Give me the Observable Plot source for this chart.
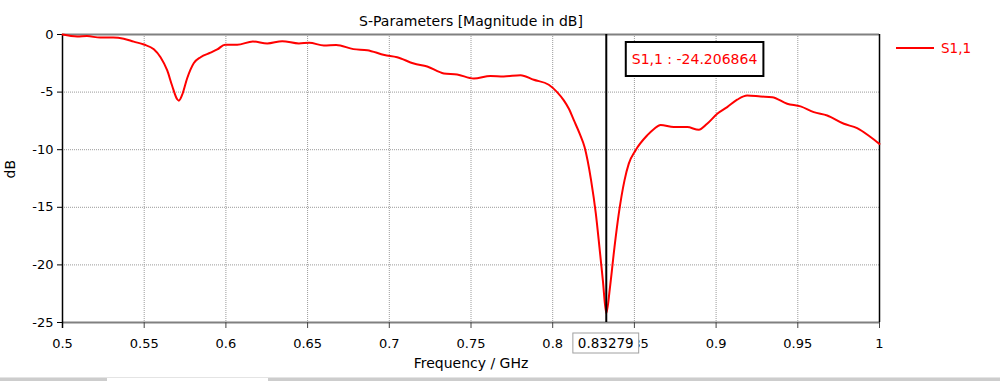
<!DOCTYPE html>
<html>
<head>
<meta charset="utf-8">
<script src="https://cdn.jsdelivr.net/npm/d3@7"></script>
<script src="https://cdn.jsdelivr.net/npm/@observablehq/plot@0.6"></script>
<style>
  html, body { margin: 0; padding: 0; background: #fff; overflow: hidden; }
  #strip { position: relative; height: 3px; border-top: 1px solid #e4e4e4; background: #cdcdcd; }
  #strip .thumb { position: absolute; left: 107px; width: 161px; top: 0; height: 3px; background: #fff; }
</style>
</head>
<body>
<div id="chart"></div>
<div id="strip"><div class="thumb"></div></div>
<script>
const title = "S-Parameters [Magnitude in dB]";
const xLabel = "Frequency / GHz";
const yLabel = "dB";
const seriesName = "S1,1";

const xTicks = [0.5, 0.55, 0.6, 0.65, 0.7, 0.75, 0.8, 0.85, 0.9, 0.95, 1];
const yTicks = [0, -5, -10, -15, -20, -25];

const markerFreq = 0.83279;
const markerValue = -24.206864;

const freq = [
  0.500, 0.509, 0.515, 0.523, 0.531, 0.5375, 0.5436, 0.5498, 0.5559, 0.560,
  0.5641, 0.5671, 0.5702, 0.5712, 0.5732, 0.5763, 0.5804, 0.5845, 0.5906, 0.5947,
  0.5995, 0.6069, 0.6165, 0.6253, 0.6345, 0.6447, 0.6510, 0.660, 0.6675, 0.678,
  0.6865, 0.6970, 0.7048, 0.715, 0.7232, 0.7334, 0.7415, 0.7517, 0.7619, 0.770,
  0.7803, 0.7884, 0.7976, 0.8027, 0.8068, 0.8099, 0.813, 0.8165, 0.8195, 0.8235,
  0.8264, 0.8286, 0.8307, 0.83279, 0.83507, 0.83782, 0.84045, 0.84394, 0.84657, 0.85067,
  0.8578, 0.862, 0.866, 0.8741, 0.8823, 0.8894, 0.8945,
  0.9007, 0.9068, 0.9129, 0.919, 0.9272, 0.9343, 0.9435, 0.9517, 0.9598, 0.968,
  0.9782, 0.9863, 0.9945, 1.0
];
const s11 = [
  0.00, -0.17, -0.14, -0.27, -0.25, -0.36, -0.62, -0.87, -1.28, -1.97,
  -3.12, -4.45, -5.62, -5.74, -5.25, -3.80, -2.48, -1.97, -1.58, -1.30,
  -0.88, -0.90, -0.60, -0.78, -0.58, -0.78, -0.71, -0.96, -0.91, -1.27,
  -1.36, -1.78, -1.97, -2.52, -2.78, -3.38, -3.47, -3.82, -3.60, -3.65,
  -3.53, -3.93, -4.36, -5.00, -5.72, -6.45, -7.46, -8.60, -9.77, -12.66,
  -15.55, -18.45, -21.34, -24.206864, -21.92, -18.45, -15.55, -12.66, -11.21, -10.06,
  -8.76, -8.20, -7.85, -8.04, -8.04, -8.27, -7.75,
  -6.88, -6.30, -5.66, -5.30, -5.38, -5.44, -6.01, -6.24, -6.74, -7.03,
  -7.75, -8.13, -8.90, -9.50
];

const data = freq.map((f, i) => ({f, v: s11[i]}));
const fmt = d => String(d);
const innerX = xTicks.slice(1, -1);
const innerY = yTicks.slice(1, -1);

const plot = Plot.plot({
  width: 1000,
  height: 377,
  marginLeft: 62,
  marginRight: 121,
  marginTop: 34,
  marginBottom: 55,
  style: {fontFamily: "'DejaVu Sans', Verdana, sans-serif", fontSize: "13px", color: "#000", background: "#fff", overflow: "visible"},
  x: {domain: [0.5, 1], label: null},
  y: {domain: [-25, 0], label: null},
  marks: [
    Plot.gridX(innerX, {stroke: "#9a9a9a", strokeOpacity: 1, strokeDasharray: "1,1"}),
    Plot.gridY(innerY, {stroke: "#9a9a9a", strokeOpacity: 1, strokeDasharray: "1,1"}),
    Plot.ruleY([0], {stroke: "#808080", strokeWidth: 2}),
    Plot.ruleY([-25], {stroke: "#808080", strokeWidth: 2}),
    Plot.ruleX([1], {stroke: "#000", strokeWidth: 1.5}),
    Plot.axisX(xTicks, {tickFormat: fmt, tickSize: 6, tickPadding: 10, stroke: "#444", label: null}),
    Plot.axisY(yTicks, {tickFormat: fmt, tickSize: 5, tickPadding: 4, stroke: "#000", label: null}),
    Plot.ruleX([0.5], {stroke: "#000", strokeWidth: 1.5, y1: 0, y2: -25, insetBottom: -6}),
    Plot.line(data, {x: "f", y: "v", stroke: "#ff0000", strokeWidth: 2, strokeLinejoin: "round", curve: "monotone-x"}),
    Plot.ruleX([markerFreq], {stroke: "#000", strokeWidth: 2}),
    Plot.text([title], {frameAnchor: "top", dy: -18, fontSize: 14}),
    Plot.text([xLabel], {frameAnchor: "bottom", dy: 45, fontSize: 14}),
    Plot.text([yLabel], {frameAnchor: "left", dx: -52, rotate: -90, fontSize: 14})
  ]
});

document.getElementById("chart").appendChild(plot);

const xs = plot.scale("x");
const ys = plot.scale("y");
const mx = xs.apply(markerFreq);
const svg = d3.select(plot);

// Marker value label (top)
const gTop = svg.append("g");
const topRect = gTop.append("rect");
const topText = gTop.append("text")
  .attr("x", mx + 26)
  .attr("y", ys.apply(0) + 25)
  .attr("text-anchor", "start")
  .attr("dominant-baseline", "central")
  .attr("fill", "#ff0000")
  .attr("font-size", 14)
  .text(`${seriesName} : ${markerValue}`);
const tb = topText.node().getBBox();
topRect
  .attr("x", tb.x - 6)
  .attr("y", ys.apply(0) + 8)
  .attr("width", tb.width + 12)
  .attr("height", 34)
  .attr("fill", "#fff")
  .attr("stroke", "#000")
  .attr("stroke-width", 2);

// Marker frequency label (bottom axis)
const gBot = svg.append("g");
const botRect = gBot.append("rect");
const botText = gBot.append("text")
  .attr("x", mx)
  .attr("y", ys.apply(-25) + 21)
  .attr("text-anchor", "middle")
  .attr("dominant-baseline", "central")
  .attr("fill", "#000")
  .attr("font-size", 13.5)
  .text(markerFreq.toFixed(5));
const bb = botText.node().getBBox();
botRect
  .attr("x", mx - bb.width / 2 - 5)
  .attr("y", ys.apply(-25) + 11)
  .attr("width", bb.width + 10)
  .attr("height", 20)
  .attr("fill", "#fff")
  .attr("stroke", "#a0a0a0")
  .attr("stroke-width", 1);

// Legend
const legX = xs.apply(1) + 17;
const legY = ys.apply(0) + 14;
const gLeg = svg.append("g");
gLeg.append("line")
  .attr("x1", legX).attr("x2", legX + 38)
  .attr("y1", legY).attr("y2", legY)
  .attr("stroke", "#ff0000").attr("stroke-width", 2);
gLeg.append("text")
  .attr("x", legX + 45).attr("y", legY)
  .attr("text-anchor", "start")
  .attr("dominant-baseline", "central")
  .attr("fill", "#ff0000")
  .attr("font-size", 13.5)
  .text(seriesName);
</script>
</body>
</html>
